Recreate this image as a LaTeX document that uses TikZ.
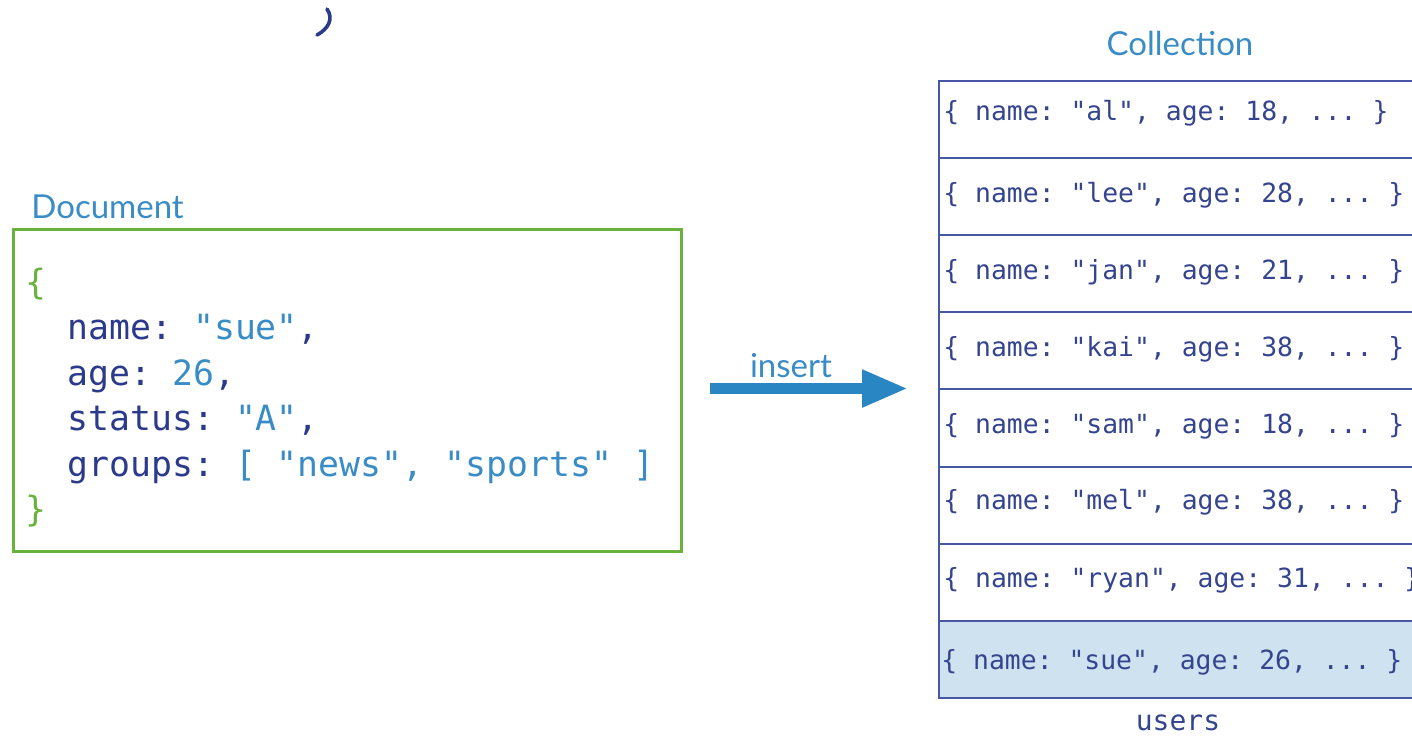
\documentclass[tikz,border=0pt]{standalone}
\usepackage{fontspec}
\setsansfont{Lato}
\setmonofont{DejaVu Sans Mono}
\usetikzlibrary{arrows.meta}
\definecolor{navy}{HTML}{2B3A8A}
\definecolor{mblue}{HTML}{3A8CC6}
\definecolor{mgreen}{HTML}{6AB23E}
\definecolor{rowline}{HTML}{4657A3}
\definecolor{rowtext}{HTML}{34448E}
\definecolor{hl}{HTML}{CFE2F0}
\definecolor{arrowblue}{HTML}{2A86C2}
\tikzset{
  title/.style={inner sep=0pt, text=mblue, font=\sffamily\fontsize{16.5}{18}\selectfont},
  docbox/.style={draw=mgreen, line width=1.5pt, rectangle, inner sep=0pt, minimum width=334pt, minimum height=161pt, anchor=north west},
  code/.style={inner sep=0pt, anchor=base west, text=navy, font=\ttfamily\fontsize{17.4}{20}\selectfont},
  rowbox/.style={draw=rowline, line width=1pt, rectangle, inner sep=0pt, minimum width=260pt, minimum height=38.55pt, anchor=north west},
  rowtxt/.style={inner sep=0pt, anchor=base west, text=rowtext, font=\ttfamily\fontsize{13.2}{15}\selectfont},
  insarrow/.style={draw=arrowblue, line width=5.5pt, -{Triangle[length=23pt,width=17.5pt]}},
}
\begin{document}
\begin{tikzpicture}[x=0.5pt,y=-0.5pt]
\path[use as bounding box] (0,0) rectangle (1412,736);
\begin{scope}
\clip (0,0) rectangle (1412,736);
% stray glyph at top
\draw[navy, line width=1.8pt, line cap=round] (327,9) .. controls (334,19) and (328,29) .. (317,35);
% Document
\node[title, anchor=base west] (doctitle) at (31,218) {Document};
\node[docbox] (doc) at (12,228) {};
\node[code, text=mgreen] (l0) at (25.5,294) {\{};
\node[code] (l1) at (67,339.5) {name: \textcolor{mblue}{"sue"},};
\node[code] (l2) at (67,385) {age: \textcolor{mblue}{26},};
\node[code] (l3) at (67,430.5) {status: \textcolor{mblue}{"A"},};
\node[code] (l4) at (67,476) {groups: \textcolor{mblue}{[ "news", "sports" ]}};
\node[code, text=mgreen] (l5) at (25.5,521.5) {\}};
% insert arrow
\coordinate (a1) at (710,388.5);
\coordinate (a2) at (908,388.5);
\draw[insarrow] (a1) -- (a2);
\node[inner sep=0pt, anchor=base, text=mblue, font=\sffamily\fontsize{16.5}{18}\selectfont] (ins) at (791,377) {insert};
% Collection
\node[title, anchor=base] (coltitle) at (1180,55) {Collection};
\node[rowbox] (r1) at (938,80) {};
\node[rowbox] (r2) at (938,157.1) {};
\node[rowbox] (r3) at (938,234.2) {};
\node[rowbox] (r4) at (938,311.3) {};
\node[rowbox] (r5) at (938,388.4) {};
\node[rowbox] (r6) at (938,465.5) {};
\node[rowbox] (r7) at (938,542.6) {};
\node[rowbox, fill=hl] (r8) at (938,619.7) {};
\node[rowtxt] (t1) at (943,120) {\{ name: "al", age: 18, ... \}};
\node[rowtxt] (t2) at (943,202) {\{ name: "lee", age: 28, ... \}};
\node[rowtxt] (t3) at (943,279) {\{ name: "jan", age: 21, ... \}};
\node[rowtxt] (t4) at (943,356) {\{ name: "kai", age: 38, ... \}};
\node[rowtxt] (t5) at (943,433) {\{ name: "sam", age: 18, ... \}};
\node[rowtxt] (t6) at (943,509) {\{ name: "mel", age: 38, ... \}};
\node[rowtxt] (t7) at (943,587) {\{ name: "ryan", age: 31, ... \}};
\node[rowtxt] (t8) at (941,669) {\{ name: "sue", age: 26, ... \}};
\node[inner sep=0pt, anchor=base, text=rowtext, font=\ttfamily\fontsize{14}{16}\selectfont] (users) at (1178,730) {users};
\end{scope}
\end{tikzpicture}
\end{document}
